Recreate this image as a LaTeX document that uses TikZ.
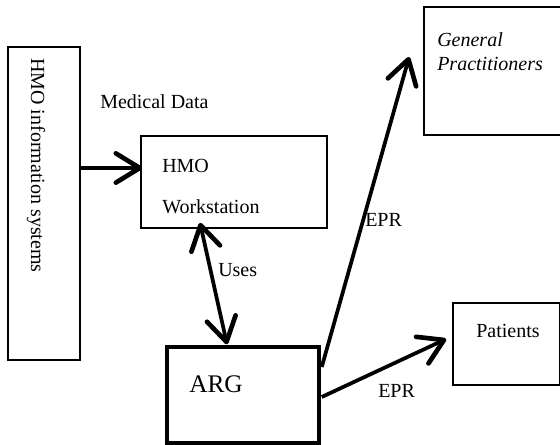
\documentclass[tikz,border=0pt]{standalone}
\usepackage{fontspec}
\setmainfont{Liberation Serif}
\usetikzlibrary{arrows.meta, positioning, calc}

\begin{document}
\begin{tikzpicture}[x=0.75pt, y=0.75pt,
   every node/.style={font=\fontsize{15}{18}\selectfont},
   b/.style={draw, line width=1.3pt, inner sep=0pt},
   hb/.style={draw, line width=2.6pt, inner sep=0pt},
   t/.style={inner sep=0pt, anchor=base west},
   ar/.style={-{Straight Barb[length=18pt, width=22pt, line width=3.5pt, round]}, line width=2.8pt},
   dar/.style={{Straight Barb[length=18pt, width=22pt, line width=3.5pt, round]}-{Straight Barb[length=18pt, width=22pt, line width=3.5pt, round]}, line width=2.8pt}]
  \useasboundingbox (0,0) rectangle (560,445);
  % boxes
  \node[b, line width=1.8pt, minimum width=54pt, minimum height=234.75pt] (info) at (44,241.5) {};
  \node[b, minimum width=139.5pt, minimum height=69pt] (ws) at (234,263) {};
  \node[hb, minimum width=114pt, minimum height=72pt] (arg) at (243,50) {};
  \node[b, minimum width=103.5pt, minimum height=96pt] (gp) at (493,374) {};
  \node[b, minimum width=79.9pt, minimum height=61.5pt] (pat) at (506.25,101) {};
  % texts
  \node[t, rotate=-90] (infotxt) at (31,387) {HMO information systems};
  \node[t] (md) at (100,336) {Medical Data};
  \node[t] (wsa) at (162,272) {HMO};
  \node[t] (wsb) at (162,231) {Workstation};
  \node[t, font=\fontsize{19}{22}\selectfont] (argtxt) at (189,52) {ARG};
  \node[t, font=\fontsize{15}{18}\selectfont\itshape] (gpa) at (437,398) {General};
  \node[t, font=\fontsize{15}{18}\selectfont\itshape] (gpb) at (437,374) {Practitioners};
  \node[t] (pattxt) at (476,107) {Patients};
  \node[t] (uses) at (218,168) {Uses};
  \node[t] (epra) at (365,218) {EPR};
  \node[t] (eprb) at (378,47) {EPR};
  % connectors
  \draw[ar] ($(info.east)+(0,35.5)$) -- ($(ws.west)+(2,14)$);
  \draw[dar] ($(ws.south)+(-34,6)$) -- ($(arg.north)+(-16,1)$);
  \draw[ar] ($(arg.east)+(1,28)$) -- ($(gp.west)+(-14,14)$);
  \draw[ar] ($(arg.east)+(1,-2)$) -- ($(pat.west)+(-6,5)$);
\end{tikzpicture}
\end{document}
